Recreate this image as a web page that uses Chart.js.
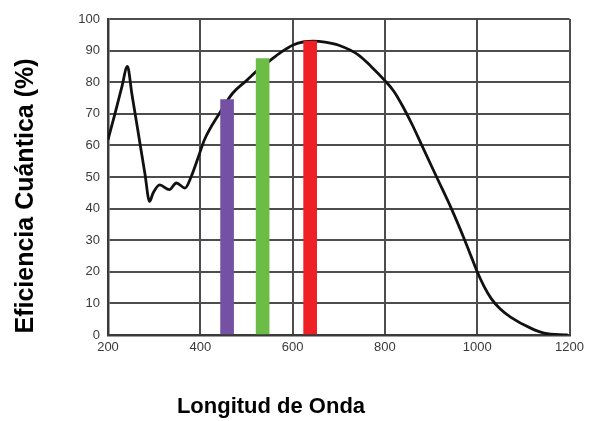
<!DOCTYPE html>
<html>
<head>
<meta charset="utf-8">
<script src="https://cdn.jsdelivr.net/npm/chart.js@4/dist/chart.umd.min.js"></script>
<style>
  html, body { margin: 0; padding: 0; background: #fff; }
  #wrap { width: 589px; height: 421px; position: relative; }
</style>
</head>
<body>
<div id="wrap"><canvas id="qeChart"></canvas></div>
<script>
// Quantum efficiency curve (wavelength in nm, efficiency in %)
const wavelengths = [200, 215, 230, 242, 252, 265, 280, 290, 298, 312, 333, 348, 367, 380, 395, 409,
  443, 470, 500, 522, 549, 575, 601, 625, 645, 670, 700, 743, 770, 800, 820, 840, 860, 880, 912, 944,
  973, 987, 1000, 1015, 1030, 1050, 1073, 1117, 1145, 1196];
const efficiency = [61.8, 70, 78.5, 85, 76, 64.5, 51, 42.3, 45, 47.5, 46, 48.1, 46.5, 50, 56, 61.8,
  70.5, 76.5, 80.5, 83.5, 86.6, 89.5, 91.8, 92.8, 93, 92.7, 91.7, 88.6, 85, 80.5, 77, 72, 66.3, 60, 50, 40,
  30, 24.8, 20, 15.3, 11.6, 8.2, 5.6, 2.1, 0.6, 0];

// Colour channel bars
const channelWavelengths = [458, 535, 638];
const channelValues = [74.5, 87.5, 93];
const channelColors = ['#7551a4', '#6bbd45', '#ee1f25'];

const xTicks = [200, 400, 600, 800, 1000, 1200];
const yTicks = [0, 10, 20, 30, 40, 50, 60, 70, 80, 90, 100];

const yTitle = 'Eficiencia Cuántica (%)';
const xTitle = 'Longitud de Onda';

// axis titles drawn at fixed spots beside the plot
const axisTitles = {
  id: 'axisTitles',
  afterDraw(chart) {
    const ctx = chart.ctx;
    ctx.save();
    ctx.fillStyle = '#000';
    ctx.textAlign = 'center';
    ctx.textBaseline = 'alphabetic';
    ctx.font = 'bold 22px "Liberation Sans", Arial, sans-serif';
    ctx.fillText(xTitle, 271, 413);
    ctx.font = 'bold 25px "Liberation Sans", Arial, sans-serif';
    ctx.translate(33, 196);
    ctx.rotate(-Math.PI / 2);
    ctx.fillText(yTitle, 0, 0);
    ctx.restore();
  }
};

const curve = wavelengths.map((w, i) => ({ x: w, y: efficiency[i] }));
const bars = channelWavelengths.map((w, i) => ({ x: w, y: channelValues[i] }));

new Chart(document.getElementById('qeChart'), {
  data: {
    datasets: [
      {
        type: 'bar',
        data: bars,
        backgroundColor: channelColors,
        barThickness: 13,
        order: 0
      },
      {
        type: 'line',
        data: curve,
        borderColor: '#111',
        borderWidth: 2.8,
        pointRadius: 0,
        cubicInterpolationMode: 'monotone',
        order: 1
      }
    ]
  },
  options: {
    responsive: true,
    maintainAspectRatio: false,
    animation: false,
    layout: { padding: { top: 19, right: 17, left: 0, bottom: 0 } },
    plugins: { legend: { display: false }, tooltip: { enabled: false } },
    scales: {
      x: {
        type: 'linear',
        min: 200,
        max: 1200,
        offset: false,
        afterBuildTicks: scale => { scale.ticks = xTicks.map(v => ({ value: v })); },
        afterFit: scale => { scale.height = 86; },
        ticks: {
          color: '#3a3a3a',
          padding: 5,
          callback: v => String(v),
          font: { family: '"Liberation Sans", Arial, sans-serif', size: 13 }
        },
        grid: { color: '#4d4d4d', lineWidth: 2, drawTicks: false, offset: false },
        border: { color: '#3a3a3a', width: 2.5 }
      },
      y: {
        min: 0,
        max: 100,
        afterBuildTicks: scale => { scale.ticks = yTicks.map(v => ({ value: v })); },
        afterFit: scale => { scale.width = 108; },
        ticks: {
          color: '#3a3a3a',
          padding: 8,
          font: { family: '"Liberation Sans", Arial, sans-serif', size: 13 }
        },
        grid: { color: '#4d4d4d', lineWidth: 2, drawTicks: false },
        border: { color: '#3a3a3a', width: 2.5 }
      }
    }
  },
  plugins: [axisTitles]
});
</script>
</body>
</html>
